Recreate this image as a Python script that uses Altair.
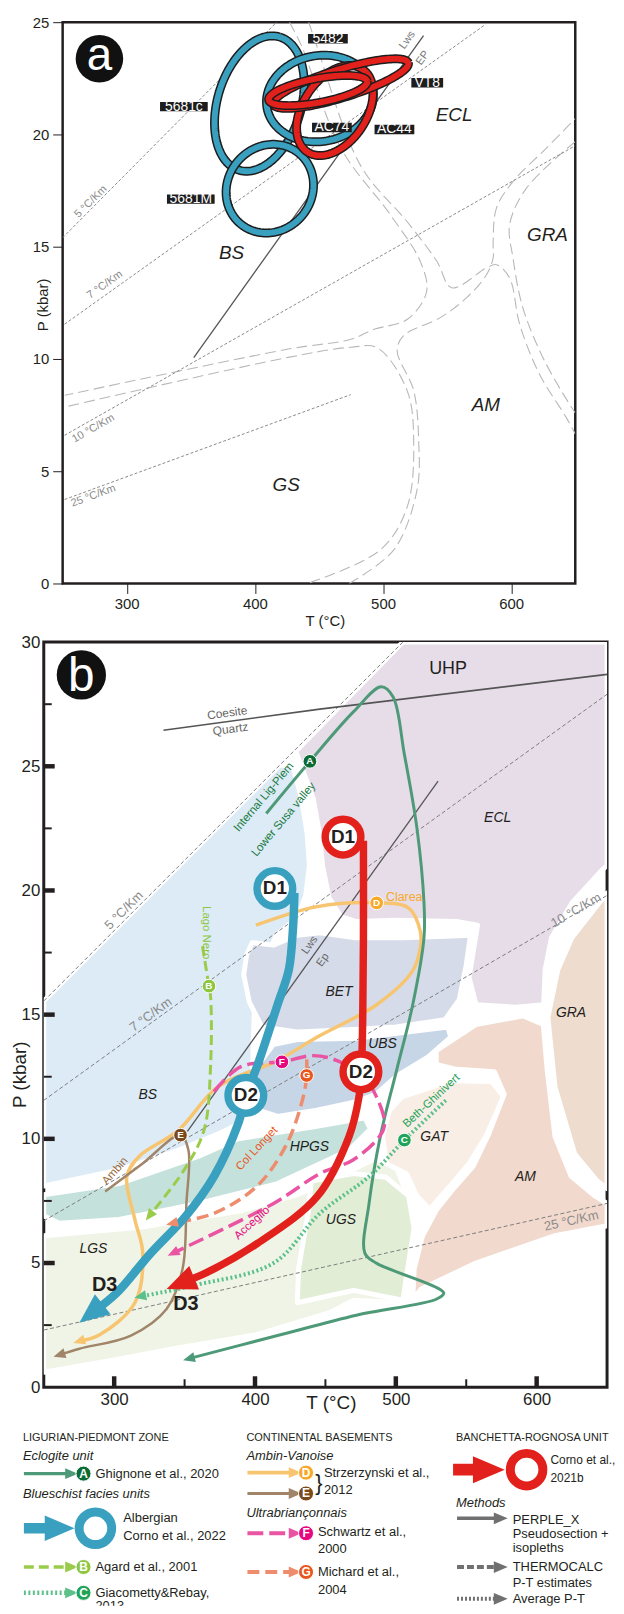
import math
import altair as alt
import numpy as np
import pandas as pd

FONT = "Liberation Sans Narrow, Liberation Sans, Arial, sans-serif"
INK = "#231f20"

T_DOMAIN = [250, 650]
PA_DOMAIN = [0, 25]
PB_DOMAIN = [0, 30]
A_W, A_H = 516, 565
B_W, B_H = 567, 750
KXA, KYA = A_W / 400.0, A_H / 25.0
KXB, KYB = B_W / 400.0, B_H / 30.0

# ======================= panel a values =======================
A_X_TICKS = [300, 400, 500, 600]
A_Y_TICKS = [0, 5, 10, 15, 20, 25]

A_GEO_NAMES = ["5 °C/Km", "7 °C/Km", "10 °C/Km", "25 °C/Km"]
A_GEO_START = [(250, 15.4), (251.5, 11.55), (251.5, 6.6), (251.5, 3.74)]
A_GEO_END = [(417, 25.0), (580, 24.9), (650, 19.5), (474.8, 8.41)]
A_GEO_LABEL_AT = [(272, 17.0), (283, 13.3), (274, 6.9), (274, 3.9)]

A_FACIES_1 = [(427, 25), (436, 24), (467, 19.4), (506, 16.4), (529, 14.35), (534, 13.0), (519, 11.77),
              (493, 11.32), (475, 10.88), (426, 10.44), (251.6, 8.38)]
A_FACIES_2 = [(442, 25), (448, 24), (482.6, 18.6), (519, 16.1), (542, 14.35), (553.6, 13.17), (580.8, 14.06),
              (588.5, 14.2), (598.8, 13.6), (606.6, 11.55), (622, 9.33), (642.8, 7.41), (650, 6.66)]
A_FACIES_3 = [(254.7, 7.9), (426, 10.07), (474.8, 10.52), (495.5, 10.5), (518.8, 8.59), (523.9, 6.37),
              (518.8, 3.4), (498, 1.5), (441, 0)]
A_FACIES_4 = [(473.5, 0), (508.4, 1.5), (526.5, 4.16), (527.8, 6.37), (523.9, 8.6), (511, 10.37), (516, 11.04),
              (544.6, 11.84), (565.3, 12.73), (580.8, 13.76), (585.9, 14.5), (585.9, 15.24), (588.5, 16.72),
              (601.4, 17.9), (627.3, 19.38), (650, 20.7)]
A_FACIES_5 = [(650, 19.68), (611.8, 17.6), (598.8, 15.98), (601.4, 14.5), (609, 12.3), (624.7, 10.07),
              (645.3, 8.0), (650, 7.6)]

A_LWS_EP = [(352.3, 10.06), (531.6, 24.4)]
A_LWS_LABELS = ["Lws", "EP"]
A_LWS_LABEL_AT = [(519, 24.2), (531, 23.4)]

A_REGIONS = ["BS", "ECL", "GRA", "AM", "GS"]
A_REGION_AT = [(381.8, 14.7), (555.4, 20.85), (628.3, 15.5), (580.2, 7.94), (424.4, 4.4)]

A_RINGS = ["5681c", "5681M", "5482", "AC44", "VT8", "AC74"]
A_RING_UNIT = ["blue", "blue", "blue", "red", "red", "red"]
A_RING_END1 = [(387.6, 18.41), (388.7, 16.02), (409.5, 21.18), (440.9, 19.22), (414.4, 21.34), (410.8, 21.54)]
A_RING_END2 = [(419.4, 24.34), (434.6, 19.15), (492.0, 22.02), (483.9, 22.91), (519.7, 23.19), (487.7, 22.37)]
A_RING_RATIO = [0.6, 0.92, 0.8, 0.64, 0.2, 0.24]

A_TAGS = ["5482", "5681c", "VT8", "AC74", "AC44", "5681M"]
A_TAG_AT = [(457, 24.26), (344.6, 21.24), (534.5, 22.3), (460.1, 20.31), (508.9, 20.22), (350, 17.12)]

A_BADGE_AT = (278.7, 23.37)

# ======================= panel b values =======================
B_X_LABELS = [300, 400, 500, 600]
B_Y_LABELS = [0, 5, 10, 15, 20, 25, 30]
B_X_MAJOR = [300, 400, 500, 600]
B_X_MINOR = [350, 450, 550]
B_Y_MAJOR = [5, 10, 15, 20, 25]
B_Y_MINOR = [2.5, 7.5, 12.5, 17.5, 22.5, 27.5]

B_REG_BS = [(250, 15.55), (417.5, 25.05), (427, 25.0), (433, 23.7), (437, 22.3), (438.6, 21.0), (436, 19.8),
            (430, 18.9), (415, 18.2), (400, 16.0), (398, 12.5), (388, 10.6), (374, 10.2), (346, 9.55),
            (303.5, 8.75), (250, 8.1)]
B_REG_ECL = [(505, 30), (650, 30), (650, 21.0), (646, 20.8), (625, 19.5), (610.5, 18.1), (606, 16.8),
             (605, 15.4), (585, 15.3), (557, 15.4), (552, 16.5), (558, 18.6), (543, 18.75), (500, 18.8),
             (472, 18.75), (461, 18.95), (452.6, 19.7), (448, 21.0), (445.6, 22.35), (441.4, 23.7), (429, 25.6)]
B_REG_BET = [(398, 17.9), (413, 17.8), (430, 18.2), (446, 18.3), (470, 18.1), (505, 18.1), (530, 18.15),
             (553, 18.2), (550, 17.0), (545, 15.6), (535, 14.8), (500, 14.5), (470, 14.4), (430, 14.3),
             (405, 14.5), (396, 15.5), (392, 16.6), (394, 17.4)]
B_REG_UBS = [(400, 12.8), (413, 13.8), (430, 14.0), (472, 14.05), (537, 14.5), (539, 14.1), (523, 13.3),
             (500, 12.5), (486, 11.8), (472, 11.5), (444, 11.15), (416, 10.9), (400, 11.2), (392, 12.0)]
B_REG_HPGS = [(250, 7.75), (303.5, 8.2), (360, 9.3), (388, 10.0), (444, 10.5), (478, 10.85), (482, 10.4),
              (467, 9.55), (416, 8.2), (360, 7.4), (303.5, 6.75), (261, 6.6), (250, 6.9)]
B_REG_LGS = [(250, 6.1), (320, 6.45), (390, 7.1), (430, 7.75), (462, 8.55), (485, 9.2), (500, 8.9), (512, 7.2),
             (510, 4.8), (505, 3.4), (470, 3.5), (453, 3.0), (400, 2.1), (342, 1.55), (300, 1.1), (250, 0.6)]
B_REG_UGS = [(440, 8.3), (470, 8.6), (493, 8.45), (509, 7.7), (513, 6.4), (509, 5.0), (505, 3.5), (470, 3.9),
             (430, 3.4), (431, 4.8), (438, 7.1)]
B_REG_GAT = [(504.7, 11.7), (540, 12.35), (568, 12.3), (576.6, 11.7), (564, 10.1), (552, 9.0), (540, 8.2),
             (524, 7.16), (515, 7.7), (507.5, 8.6), (493.4, 9.0), (490.6, 10.1), (495.5, 11.15)]
B_REG_AM = [(528.7, 13.55), (556.8, 14.6), (590.6, 14.95), (604.7, 14.6), (607.5, 12.75), (613, 10.1),
            (624.4, 8.5), (641.2, 7.7), (650, 7.4), (650, 6.5), (613, 6.1), (556.8, 5.0), (518, 3.95),
            (512, 3.55), (513, 4.75), (519, 6.1), (529, 7.15), (541, 8.0), (555, 8.9), (566, 10.2),
            (577, 11.8), (570, 12.7), (543, 12.8), (528.7, 13.0)]
B_REG_GRA = [(650, 19.9), (648, 19.76), (625, 18.1), (615, 16.8), (608, 14.9), (613, 12.1), (627, 9.4),
             (643, 8.3), (650, 8.0)]
B_REGION_NAMES = ["BS", "ECL", "BET", "UBS", "HPGS", "LGS", "UGS", "GAT", "AM", "GRA"]
B_REGION_LABEL_AT = [(323.9, 11.75), (572.3, 22.9), (459.7, 15.9), (490.6, 13.8), (438.6, 9.68),
                     (285.2, 5.55), (461, 6.75), (527.2, 10.08), (592, 8.48), (624.4, 15.08)]
B_UHP_AT = (537.1, 28.9)

B_GEO_NAMES = ["5 °C/Km", "7 °C/Km", "10 °C/Km", "25 °C/Km"]
B_GEO_START = [(250, 15.55), (250, 11.55), (250, 6.7), (250, 2.3)]
B_GEO_END = [(505, 30.0), (650, 27.9), (650, 19.8), (650, 7.4)]
B_GEO_LABEL_AT = [(307, 19.2), (326, 15.0), (628, 19.2), (624.6, 6.7)]

B_COESITE = [(335, 26.45), (446, 27.3), (650, 28.7)]
B_COESITE_LABELS = ["Coesite", "Quartz"]
B_COESITE_LABEL_AT = [(380.3, 27.15), (382.6, 26.5)]
B_LWS_EP = [(352, 10.3), (530, 24.4)]
B_LWS_LABELS = ["Lws", "Ep"]
B_LWS_LABEL_AT = [(439, 17.8), (448.3, 17.2)]

B_PATH_A = [(408, 23.1), (439, 25.2), (470, 27.2), (489.7, 28.2), (498, 27.8), (506, 25.5), (515, 22.5),
            (520, 19.5), (520, 18.1), (512, 15.4), (500.5, 12.75), (489, 10.1), (481, 7.4), (478, 5.4),
            (486, 5.0), (534, 3.8), (529, 3.55), (472, 2.9), (416, 2.08), (353, 1.15)]
B_PATH_B = [(362.7, 17.75), (367.3, 16.15), (368.5, 15.7), (368.5, 13.0), (363.8, 10.35), (349.7, 8.75),
            (325, 6.9)]
B_PATH_C = [(535.5, 11.55), (506.1, 9.95), (481.4, 8.5), (446.1, 7.0), (413.2, 5.0), (356.7, 4.1), (318.5, 3.65)]
B_PATH_D = [(400.6, 18.6), (444.2, 19.35), (486.4, 19.5), (509, 19.3), (517.4, 18.35), (517.4, 17.7),
            (511.8, 16.75), (486.4, 15.4), (444.2, 14.1), (416, 13.15), (373.8, 12.1), (345.7, 10.35),
            (317.5, 9.28), (309, 8.48), (314.7, 6.75), (320.3, 5.4), (314.7, 3.4), (289.4, 2.1), (275, 1.85)]
B_PATH_E = [(293.6, 7.88), (320, 9.0), (347.1, 10.15), (352.7, 9.55), (351.3, 7.4), (348.5, 4.75),
            (337.2, 3.15), (311.9, 2.08), (275.3, 1.55), (261, 1.3)]
B_PATH_F = [(370.9, 11.9), (389.7, 12.9), (419.1, 13.1), (441.4, 13.35), (458.3, 13.15), (477, 12.5),
            (486.2, 11.7), (492, 10.6), (488.5, 10.1), (469.6, 9.15), (446.1, 8.6), (413.2, 7.4), (341.8, 5.4)]
B_PATH_G = [(436.7, 13.2), (436.7, 12.55), (434.3, 11.7), (422.6, 9.8), (401.5, 8.1), (370.9, 7.0), (341, 6.6)]
B_PATH_BLUE = [(428, 19.9), (427, 18.5), (424, 16.8), (416, 15.4), (402, 13.0), (393.5, 11.75), (388, 10.6),
               (371, 8.5), (351, 6.9), (326, 5.4), (301, 3.75), (283.6, 2.97)]
B_PATH_RED = [(477, 22.0), (477, 18.0), (476.5, 14.9), (475.5, 12.7), (473.8, 11.68), (466.7, 10.08),
              (444.2, 7.68), (402, 5.8), (366.6, 4.64), (347, 4.18)]

B_MARKERS = ["A", "B", "C", "D", "E", "F", "G"]
B_MARKER_AT = [(439, 25.2), (367.3, 16.15), (506.1, 9.95), (486.4, 19.5), (347.1, 10.15), (419.1, 13.1),
               (436.7, 12.55)]

B_STAGES = ["D1", "D2", "D1", "D2"]
B_STAGE_UNIT = ["blue", "blue", "red", "red"]
B_STAGE_AT = [(414.1, 20.08), (393.5, 11.75), (462.5, 22.15), (475.2, 12.7)]
B_D3_AT = [(293.2, 4.1), (350.9, 3.35)]

B_PATH_LABELS = ["Internal Lig-Piem", "Lower Susa valley", "Lago Nero", "Ambin", "Col Longet", "Acceglio",
                 "Beth-Ghinivert"]
B_PATH_LABEL_AT = [(406.5, 23.75), (420.5, 22.85), (365, 18.3), (300.8, 8.7), (401.5, 9.6), (398, 6.6),
                   (525.4, 11.52)]
B_CLAREA_AT = (493, 19.75)
B_BADGE_AT = (276.7, 28.68)

# ======================= styles =======================
BLUE = "#3aa0bf"
RED = "#e3211c"
MARK_COL = {"A": "#0b6b35", "B": "#8dc640", "C": "#1fa45a", "D": "#f6a92a", "E": "#7b4a1c",
            "F": "#e5087f", "G": "#e8581e"}
REG_COL = {"BS": "#dcebf6", "ECL": "#e6dde9", "BET": "#d6dbe9", "UBS": "#c7d6e7", "HPGS": "#c4e1dc",
           "LGS": "#eff4e7", "UGS": "#e2edd6", "GAT": "#f9eee6", "AM": "#f1d9cd", "GRA": "#eedccf"}
PATH_STYLE = {
    "D": ("#f7c56f", 3.5, None, 12), "E": ("#a08569", 2.5, None, 12), "A": ("#4e9a78", 3, None, 12),
    "B": ("#9bcb4a", 3, [10, 5], 12), "G": ("#ee8d6e", 3.5, [12, 6], 12), "F": ("#ea55a3", 3.5, [16, 6], 12),
    "C": ("#5cc08b", 4, [2, 2.5], 12), "blue": (BLUE, 8.5, None, 30), "red": (RED, 7.5, None, 30)}
ARROW_SHAPE = "M 1 0 L -1 -0.85 L -1 0.85 Z"


def pts(points, name="s"):
    return pd.DataFrame({"T": [p[0] for p in points], "P": [p[1] for p in points],
                         "i": list(range(len(points))), "name": name})


def scr_angle(p0, p1, kx, ky):
    return math.degrees(math.atan2(-(p1[1] - p0[1]) * ky, (p1[0] - p0[0]) * kx)) % 360


def text_df(labels, at, **extra):
    d = pd.DataFrame({"T": [a[0] for a in at], "P": [a[1] for a in at], "label": labels})
    for k, v in extra.items():
        d[k] = v
    return d


def make_enc(domain_p, xaxis, yaxis):
    x = alt.X("T:Q", scale=alt.Scale(domain=T_DOMAIN, nice=False, zero=False), axis=xaxis)
    y = alt.Y("P:Q", scale=alt.Scale(domain=domain_p, nice=False, zero=False), axis=yaxis)
    return x, y


def line_layer(df, X, Y, **mk):
    return alt.Chart(df).mark_line(clip=True, **mk).encode(x=X, y=Y, detail="name:N", order="i:Q")


def text_layer(df, X, Y, **mk):
    enc = dict(x=X, y=Y, text="label:N")
    if "ang" in df:
        enc["angle"] = alt.Angle("ang:Q", scale=None)
    if "col" in df:
        enc["color"] = alt.Color("col:N", scale=None)
    return alt.Chart(df).mark_text(font=FONT, **mk).encode(**enc)


def head_layer(df, X, Y):
    return alt.Chart(df).mark_point(shape=ARROW_SHAPE, filled=True, opacity=1, strokeWidth=0).encode(
        x=X, y=Y, angle=alt.Angle("ang:Q", scale=None), size=alt.Size("sz:Q", scale=None),
        fill=alt.Fill("col:N", scale=None))


# ======================= panel a =======================
ax_common = dict(labelFont=FONT, labelColor=INK, titleFont=FONT, titleColor=INK, titleFontWeight="normal",
                 grid=False, domain=False, titleAlign="center", titleBaseline="middle", format="d")
AXA = alt.Axis(values=A_X_TICKS, tickSize=10, tickColor=INK, tickWidth=1, labelFontSize=15, labelPadding=3,
               title="T (°C)", titleFontSize=15, titleX=264, titleY=37, **ax_common)
AYA = alt.Axis(values=A_Y_TICKS, tickSize=10, tickColor=INK, tickWidth=1, labelFontSize=15, labelPadding=4,
               title="P (kbar)", titleFontSize=15, titleAngle=270, titleX=-20, titleY=284, **ax_common)
XA, YA = make_enc(PA_DOMAIN, AXA, AYA)

a_layers = []
facies = pd.concat([pts(A_FACIES_1, "f1"), pts(A_FACIES_2, "f2"), pts(A_FACIES_3, "f3"),
                    pts(A_FACIES_4, "f4"), pts(A_FACIES_5, "f5")])
a_layers.append(line_layer(facies, XA, YA, color="#b8b8b8", strokeWidth=1.1, strokeDash=[11, 5],
                           interpolate="catmull-rom"))
geo = pd.concat([pts([s, e], n) for n, s, e in zip(A_GEO_NAMES, A_GEO_START, A_GEO_END)])
a_layers.append(line_layer(geo, XA, YA, color="#8a8a8a", strokeWidth=1, strokeDash=[3, 2]))
a_layers.append(line_layer(pts(A_LWS_EP, "lws"), XA, YA, color="#555555", strokeWidth=1.3))
a_layers.append(text_layer(text_df(A_GEO_NAMES, A_GEO_LABEL_AT,
                                   ang=[scr_angle(s, e, KXA, KYA) for s, e in zip(A_GEO_START, A_GEO_END)]),
                           XA, YA, fontSize=11, color="#8a8a8a"))
lws_ang = scr_angle(A_LWS_EP[0], A_LWS_EP[1], KXA, KYA)
a_layers.append(text_layer(text_df(A_LWS_LABELS, A_LWS_LABEL_AT, ang=[lws_ang, lws_ang]), XA, YA,
                           fontSize=11, color="#777777"))
a_layers.append(text_layer(text_df(A_REGIONS, A_REGION_AT), XA, YA, fontSize=19, fontStyle="italic",
                           color=INK))


def ellipse(p1, p2, ratio, kx, ky, n=140):
    x1, y1, x2, y2 = p1[0] * kx, p1[1] * ky, p2[0] * kx, p2[1] * ky
    cx, cy = (x1 + x2) / 2, (y1 + y2) / 2
    a = math.hypot(x2 - x1, y2 - y1) / 2
    b = a * ratio
    ang = math.atan2(y2 - y1, x2 - x1)
    th = np.linspace(0, 2 * np.pi, n)
    xs = cx + a * np.cos(th) * math.cos(ang) - b * np.sin(th) * math.sin(ang)
    ys = cy + a * np.cos(th) * math.sin(ang) + b * np.sin(th) * math.cos(ang)
    return list(zip(xs / kx, ys / ky))


for name, unit, e1, e2, r in zip(A_RINGS, A_RING_UNIT, A_RING_END1, A_RING_END2, A_RING_RATIO):
    d = pts(ellipse(e1, e2, r, KXA, KYA), name)
    a_layers.append(line_layer(d, XA, YA, color="#1d1d1d", strokeWidth=9, strokeJoin="round"))
    a_layers.append(line_layer(d, XA, YA, color=BLUE if unit == "blue" else RED, strokeWidth=6,
                               strokeJoin="round"))

tag_w = [8.0 * len(t) + 8 for t in A_TAGS]
tag_df = text_df(A_TAGS, A_TAG_AT, sz=[w * w for w in tag_w],
                 shp=["M -1 -%.3f L 1 -%.3f L 1 %.3f L -1 %.3f Z" % ((9.5 / w,) * 4) for w in tag_w])
a_layers.append(alt.Chart(tag_df).mark_point(filled=True, fill="#1d1d1d", opacity=1, strokeWidth=0).encode(
    x=XA, y=YA, size=alt.Size("sz:Q", scale=None), shape=alt.Shape("shp:N", scale=None)))
a_layers.append(text_layer(tag_df, XA, YA, fontSize=14, color="white", baseline="middle"))

badge_a = text_df(["a"], [A_BADGE_AT])
a_layers.append(alt.Chart(badge_a).mark_point(shape="circle", filled=True, fill="#111111", opacity=1,
                                              size=2290, strokeWidth=0).encode(x=XA, y=YA))
# letter baseline placed 11 px below the badge centre
badge_a_txt = text_df(["a"], [(A_BADGE_AT[0], A_BADGE_AT[1] - 11 / KYA)])
a_layers.append(text_layer(badge_a_txt, XA, YA, fontSize=46, color="white", baseline="alphabetic"))

panel_a = alt.layer(*a_layers).properties(width=A_W, height=A_H,
                                          view=alt.ViewBackground(stroke=INK, strokeWidth=2.5))

# ======================= panel b =======================
AXB = alt.Axis(values=B_X_LABELS, ticks=False, labelFontSize=17, labelPadding=4, title="T (°C)",
               titleFontSize=19, titleX=289, titleY=15, **ax_common)
AYB = alt.Axis(values=B_Y_LABELS, ticks=False, labelFontSize=17, labelPadding=4, title="P (kbar)",
               titleFontSize=19, titleAngle=270, titleX=-24, titleY=435, **ax_common)
XB, YB = make_enc(PB_DOMAIN, AXB, AYB)

b_layers = []
regions = [B_REG_BS, B_REG_ECL, B_REG_BET, B_REG_UBS, B_REG_HPGS, B_REG_LGS, B_REG_UGS, B_REG_GAT,
           B_REG_AM, B_REG_GRA]
for name, poly in zip(B_REGION_NAMES, regions):
    b_layers.append(line_layer(pts(poly, name), XB, YB, interpolate="linear-closed", fill=REG_COL[name],
                               stroke="white", strokeWidth=5, strokeJoin="round"))

geo_b = pd.concat([pts([s, e], n) for n, s, e in zip(B_GEO_NAMES, B_GEO_START, B_GEO_END)])
b_layers.append(line_layer(geo_b, XB, YB, color="#7d7d7d", strokeWidth=1, strokeDash=[4, 2.5]))
b_layers.append(text_layer(text_df(B_GEO_NAMES, B_GEO_LABEL_AT,
                                   ang=[scr_angle(s, e, KXB, KYB) for s, e in zip(B_GEO_START, B_GEO_END)]),
                           XB, YB, fontSize=13, color="#8a8a8a"))
b_layers.append(line_layer(pts(B_COESITE, "coe"), XB, YB, color="#555555", strokeWidth=1.6))
coe_ang = scr_angle(B_COESITE[0], B_COESITE[1], KXB, KYB)
b_layers.append(text_layer(text_df(B_COESITE_LABELS, B_COESITE_LABEL_AT, ang=[coe_ang, coe_ang]), XB, YB,
                           fontSize=12, color="#666666"))
b_layers.append(line_layer(pts(B_LWS_EP, "lws"), XB, YB, color="#555555", strokeWidth=1.3))
lwsb = scr_angle(B_LWS_EP[0], B_LWS_EP[1], KXB, KYB)
b_layers.append(text_layer(text_df(B_LWS_LABELS, B_LWS_LABEL_AT, ang=[lwsb, lwsb]), XB, YB,
                           fontSize=11, color="#666666"))
b_layers.append(text_layer(text_df(B_REGION_NAMES, B_REGION_LABEL_AT), XB, YB, fontSize=14,
                           fontStyle="italic", color=INK))
b_layers.append(text_layer(text_df(["UHP"], [B_UHP_AT]), XB, YB, fontSize=18, color=INK))

paths = {"D": B_PATH_D, "E": B_PATH_E, "A": B_PATH_A, "B": B_PATH_B, "G": B_PATH_G, "F": B_PATH_F,
         "C": B_PATH_C, "blue": B_PATH_BLUE, "red": B_PATH_RED}
heads = []
for key, path in paths.items():
    col, w, dash, hs = PATH_STYLE[key]
    mk = dict(color=col, strokeWidth=w, interpolate="catmull-rom", strokeCap="butt")
    if dash:
        mk["strokeDash"] = dash
    b_layers.append(line_layer(pts(path, key), XB, YB, **mk))
    heads.append({"T": path[-1][0], "P": path[-1][1], "col": col, "sz": hs * hs,
                  "ang": scr_angle(path[-2], path[-1], KXB, KYB)})
b_layers.append(head_layer(pd.DataFrame(heads), XB, YB))

mk_df = text_df(B_MARKERS, B_MARKER_AT, col=[MARK_COL[m] for m in B_MARKERS])
b_layers.append(alt.Chart(mk_df).mark_point(shape="circle", filled=True, opacity=1, size=190, stroke="white",
                                            strokeWidth=1).encode(x=XB, y=YB,
                                                                  fill=alt.Fill("col:N", scale=None)))
b_layers.append(alt.Chart(mk_df).mark_text(font=FONT, fontSize=10, fontWeight="bold", color="white",
                                           baseline="middle").encode(x=XB, y=YB, text="label:N"))

st_df = text_df(B_STAGES, B_STAGE_AT, col=[BLUE if u == "blue" else RED for u in B_STAGE_UNIT])
b_layers.append(alt.Chart(st_df).mark_point(shape="circle", filled=True, fill="white", opacity=1, size=1290,
                                            strokeWidth=7.5).encode(x=XB, y=YB,
                                                                    stroke=alt.Stroke("col:N", scale=None)))
b_layers.append(text_layer(st_df.drop(columns=["col"]), XB, YB, fontSize=19, fontWeight="bold", color=INK,
                           baseline="middle"))
b_layers.append(text_layer(text_df(["D3", "D3"], B_D3_AT), XB, YB, fontSize=20, fontWeight="bold",
                           color=INK, baseline="middle"))

pl_ang = [310, 310, 90, 312, 313, 318, 317]
pl_col = ["#1a7a3f", "#1a7a3f", "#8dc640", "#9b6a3c", "#e8581e", "#e5087f", "#1fa45a"]
b_layers.append(text_layer(text_df(B_PATH_LABELS, B_PATH_LABEL_AT, ang=pl_ang, col=pl_col), XB, YB,
                           fontSize=11.5, baseline="middle"))
b_layers.append(text_layer(text_df(["Clarea"], [B_CLAREA_AT]), XB, YB, fontSize=12.5, color="#f6a92a",
                           align="left", baseline="middle"))

# inward ticks
len_y = 11 / KYB
len_y_min = 8 / KYB
len_x = 11 / KXB
len_x_min = 8 / KXB
tx = pd.DataFrame({"T": B_X_MAJOR, "P": 0.0, "P2": len_y})
tx2 = pd.DataFrame({"T": B_X_MINOR, "P": 0.0, "P2": len_y_min})
ty = pd.DataFrame({"P": B_Y_MAJOR, "T": 250.0, "T2": 250 + len_x})
ty2 = pd.DataFrame({"P": B_Y_MINOR, "T": 250.0, "T2": 250 + len_x_min})
b_layers.append(alt.Chart(tx).mark_rule(color=INK, strokeWidth=4.5).encode(x=XB, y=YB, y2="P2:Q"))
b_layers.append(alt.Chart(tx2).mark_rule(color=INK, strokeWidth=2).encode(x=XB, y=YB, y2="P2:Q"))
b_layers.append(alt.Chart(ty).mark_rule(color=INK, strokeWidth=4.5).encode(x=XB, x2="T2:Q", y=YB))
b_layers.append(alt.Chart(ty2).mark_rule(color=INK, strokeWidth=2).encode(x=XB, x2="T2:Q", y=YB))

badge_b = text_df(["b"], [B_BADGE_AT])
b_layers.append(alt.Chart(badge_b).mark_point(shape="circle", filled=True, fill="#111111", opacity=1,
                                              size=2460, strokeWidth=0).encode(x=XB, y=YB))
badge_b_txt = text_df(["b"], [(B_BADGE_AT[0], B_BADGE_AT[1] - 16 / KYB)])
b_layers.append(text_layer(badge_b_txt, XB, YB, fontSize=48, color="white", baseline="alphabetic"))

panel_b = alt.layer(*b_layers).properties(width=B_W, height=B_H,
                                          view=alt.ViewBackground(stroke=INK, strokeWidth=3))

# ======================= legend =======================
LEG_W, LEG_H = 612, 181
LX = alt.X("lx:Q", scale=alt.Scale(domain=[0, LEG_W], nice=False, zero=False), axis=None)
LY = alt.Y("ly:Q", scale=alt.Scale(domain=[0, LEG_H], nice=False, zero=False, reverse=True), axis=None)

LEG_HEADERS = [(15, 12, "LIGURIAN-PIEDMONT ZONE"), (240, 12, "CONTINENTAL BASEMENTS"),
               (451, 12, "BANCHETTA-ROGNOSA UNIT")]
LEG_SUBHEADS = [(15, 30, "Eclogite unit"), (15, 69, "Blueschist facies units"), (240, 30, "Ambin-Vanoise"),
                (240, 88, "Ultrabriançonnais"), (451, 78, "Methods")]
LEG_TEXT = [(88, 48, "Ghignone et al., 2020"), (116, 93, "Albergian"), (116, 111, "Corno et al., 2022"),
            (88, 142, "Agard et al., 2001"), (88, 168, "Giacometty&Rebay,"), (88, 181, "2013"),
            (318, 47, "Strzerzynski et al.,"), (318, 65, "2012"), (312, 107, "Schwartz et al.,"),
            (312, 124, "2000"), (312, 147, "Michard et al.,"), (312, 165, "2004"),
            (508, 95, "PERPLE_X"), (508, 109, "Pseudosection +"),
            (508, 123, "isopleths"), (508, 142, "THERMOCALC"), (508, 158, "P-T estimates"),
            (508, 174, "Average P-T")]
LEG_TEXT_SMALL = [(546, 34, "Corno et al.,"), (546, 52, "2021b")]
LEG_ARROWS = [(16, 64, 48, "A"), (16, 64, 142, "B"), (16, 64, 168, "C"), (241, 289, 47, "D"),
              (241, 289, 68, "E"), (241, 289, 108, "F"), (241, 289, 147, "G"),
              (16, 52, 103, "blue"), (448, 484, 44, "red"),
              (452, 496, 93, "m_solid"), (452, 496, 142, "m_dash"), (452, 496, 174, "m_dot")]
LEG_MARKERS = [(76, 48, "A"), (76, 142, "B"), (76, 168, "C"), (300, 47, "D"), (300, 68, "E"),
               (300, 108, "F"), (300, 147, "G")]
LEG_RINGS = [(88, 103, "blue"), (522, 44, "red")]

LEG_STYLE = dict(PATH_STYLE)
LEG_STYLE["blue"] = (BLUE, 10, None, 30)
LEG_STYLE["red"] = (RED, 12, None, 32)
LEG_STYLE["m_solid"] = ("#707070", 3, None, 13)
LEG_STYLE["m_dash"] = ("#707070", 3.5, [7, 3], 13)
LEG_STYLE["m_dot"] = ("#707070", 3.5, [2, 2], 13)


def ldf(rows, cols):
    return pd.DataFrame(rows, columns=cols)


leg_layers = []
for x1, x2, y, key in LEG_ARROWS:
    col, w, dash, hs = LEG_STYLE[key]
    mk = dict(color=col, strokeWidth=min(w + 0.5, 12))
    if dash:
        mk["strokeDash"] = dash
    leg_layers.append(alt.Chart(ldf([(x1, x2, y)], ["lx", "lx2", "ly"])).mark_rule(**mk).encode(
        x=LX, x2="lx2:Q", y=LY))
    leg_layers.append(alt.Chart(ldf([(x2, y, col, hs * hs * (1.15 if hs < 20 else 1.0))],
                                    ["lx", "ly", "col", "sz"])).mark_point(
        shape=ARROW_SHAPE, filled=True, opacity=1, strokeWidth=0).encode(
        x=LX, y=LY, size=alt.Size("sz:Q", scale=None), fill=alt.Fill("col:N", scale=None)))

lm = ldf([(x, y, m, MARK_COL[m]) for x, y, m in LEG_MARKERS], ["lx", "ly", "label", "col"])
leg_layers.append(alt.Chart(lm).mark_point(shape="circle", filled=True, opacity=1, size=230, stroke="white",
                                           strokeWidth=1).encode(x=LX, y=LY, fill=alt.Fill("col:N", scale=None)))
leg_layers.append(alt.Chart(lm).mark_text(font=FONT, fontSize=12, fontWeight="bold", color="white",
                                          baseline="middle").encode(x=LX, y=LY, text="label:N"))
lr = ldf([(x, y, BLUE if u == "blue" else RED) for x, y, u in LEG_RINGS], ["lx", "ly", "col"])
leg_layers.append(alt.Chart(lr).mark_point(shape="circle", filled=True, fill="white", opacity=1, size=1075,
                                           strokeWidth=9).encode(x=LX, y=LY,
                                                                 stroke=alt.Stroke("col:N", scale=None)))
leg_layers.append(alt.Chart(ldf(LEG_HEADERS, ["lx", "ly", "label"])).mark_text(
    font=FONT, fontSize=11, color=INK, align="left", baseline="middle", clip=True).encode(
    x=LX, y=LY, text="label:N"))
leg_layers.append(alt.Chart(ldf(LEG_SUBHEADS, ["lx", "ly", "label"])).mark_text(
    font=FONT, fontSize=13, fontStyle="italic", color=INK, align="left", baseline="middle", clip=True).encode(
    x=LX, y=LY, text="label:N"))
leg_layers.append(alt.Chart(ldf(LEG_TEXT, ["lx", "ly", "label"])).mark_text(
    font=FONT, fontSize=13, color=INK, align="left", baseline="middle", clip=True).encode(
    x=LX, y=LY, text="label:N"))
leg_layers.append(alt.Chart(ldf(LEG_TEXT_SMALL, ["lx", "ly", "label"])).mark_text(
    font=FONT, fontSize=12, color=INK, align="left", baseline="middle", clip=True).encode(
    x=LX, y=LY, text="label:N"))
leg_layers.append(alt.Chart(ldf([(313, 57, "}")], ["lx", "ly", "label"])).mark_text(
    font=FONT, fontSize=22, color=INK, align="center", baseline="middle", clip=True).encode(
    x=LX, y=LY, text="label:N"))

legend = alt.layer(*leg_layers).properties(width=LEG_W, height=LEG_H)


# ======================= layout =======================
def spacer(w):
    return alt.Chart(pd.DataFrame({"s": [0]})).mark_point(opacity=0, size=0, strokeWidth=0).encode(
        x=alt.value(w / 2), y=alt.value(5)).properties(width=w, height=10)


row_a = alt.hconcat(spacer(23), panel_a, spacing=0)
row_b = alt.hconcat(spacer(1), panel_b, spacing=0)
lower = alt.vconcat(row_b, legend, spacing=12)
chart = alt.vconcat(row_a, lower, spacing=1).properties(padding=0).configure_view(strokeWidth=0)

chart.save("out.html", embed_options={"renderer": "svg", "actions": False})
